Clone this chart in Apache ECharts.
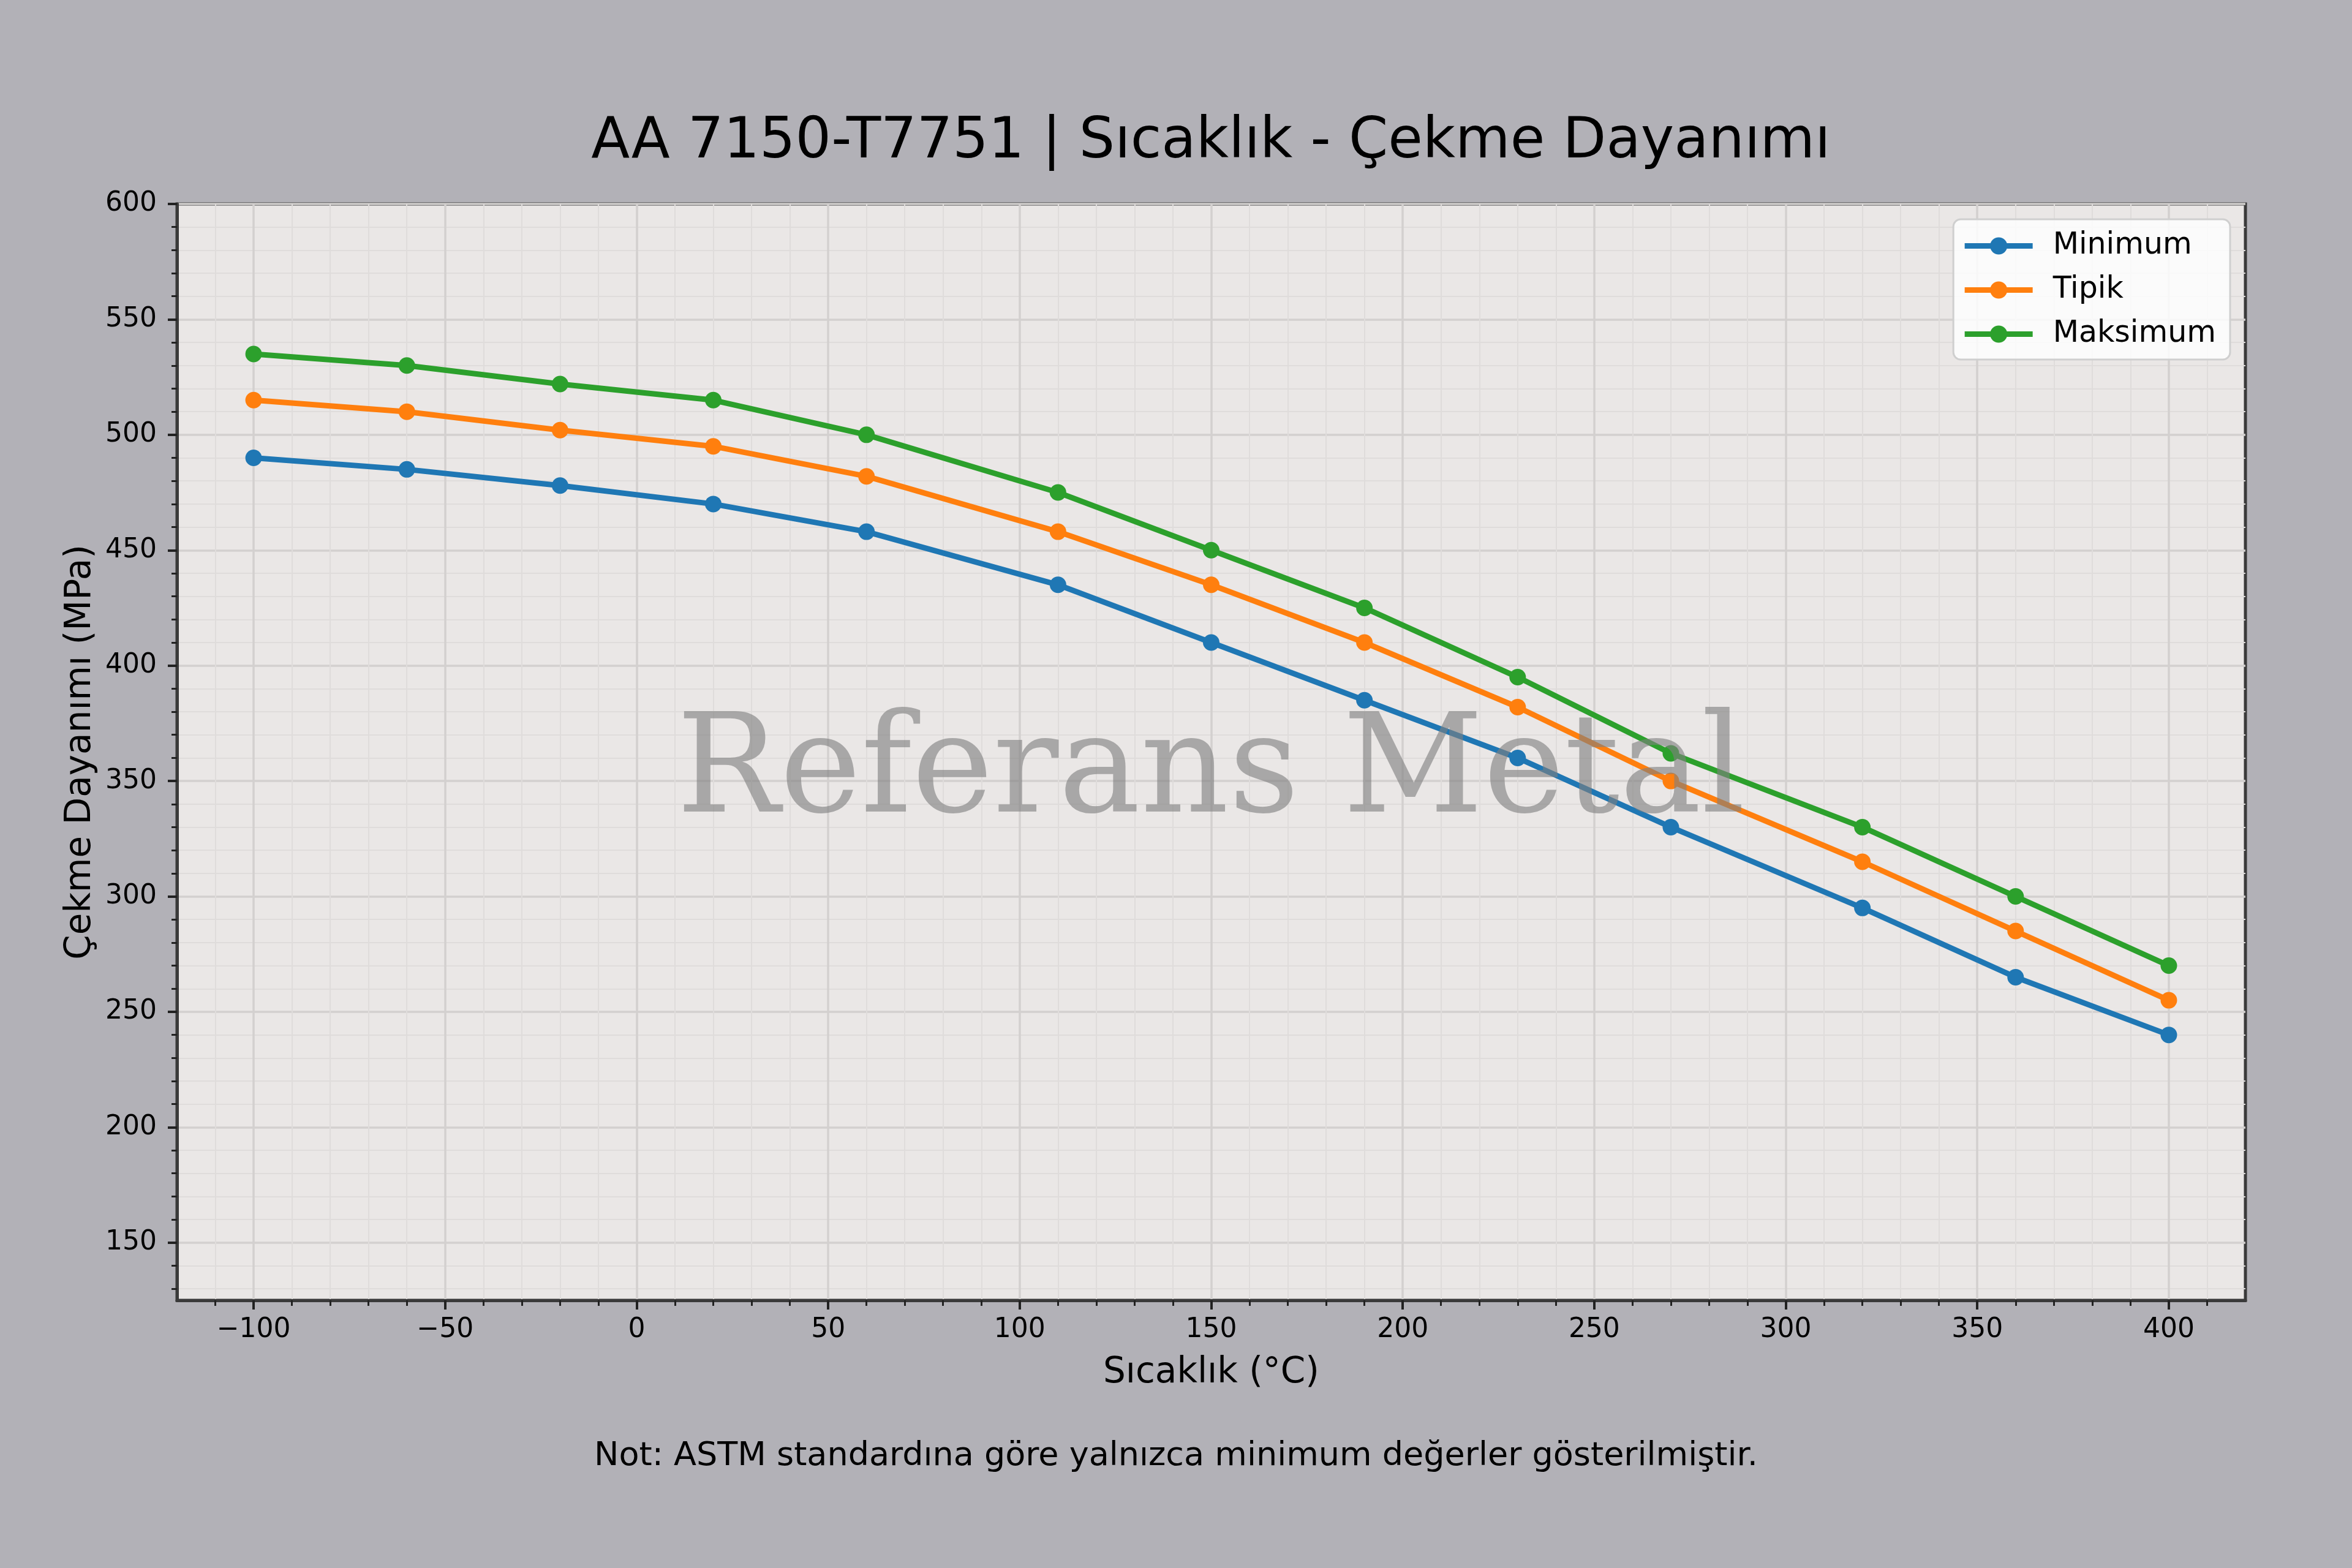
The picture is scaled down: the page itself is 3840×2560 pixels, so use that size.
<!DOCTYPE html>
<html><head><meta charset="utf-8">
<script src="https://cdn.jsdelivr.net/npm/echarts@6/dist/echarts.min.js"></script>
<style>html,body{margin:0;padding:0;background:#b2b1b7}#c{width:3840px;height:2560px}</style>
</head><body><div id="c"></div>
<script>
const temperatures = [-100, -60, -20, 20, 60, 110, 150, 190, 230, 270, 320, 360, 400];
const minimumValues = [490, 485, 478, 470, 458, 435, 410, 385, 360, 330, 295, 265, 240];
const typicalValues = [515, 510, 502, 495, 482, 458, 435, 410, 382, 350, 315, 285, 255];
const maximumValues = [535, 530, 522, 515, 500, 475, 450, 425, 395, 362, 330, 300, 270];
const seriesNames = ['Minimum', 'Tipik', 'Maksimum'];
const seriesColors = ['#1f77b4', '#ff7f0e', '#2ca02c'];
const xTickValues = [-100, -50, 0, 50, 100, 150, 200, 250, 300, 350, 400];
const yTickValues = [150, 200, 250, 300, 350, 400, 450, 500, 550, 600];
const titleText = 'AA 7150-T7751 | Sıcaklık - Çekme Dayanımı';
const xAxisTitle = 'Sıcaklık (°C)';
const yAxisTitle = 'Çekme Dayanımı (MPa)';
const noteText = 'Not: ASTM standardına göre yalnızca minimum değerler gösterilmiştir.';
const watermarkText = 'Referans Metal';

const FONT = 'DejaVu Sans';
const chart = echarts.init(document.getElementById('c'), null, {renderer: 'canvas'});
const valueSets = [minimumValues, typicalValues, maximumValues];
const fmt = v => (v < 0 ? '\u2212' + Math.abs(v) : String(v));

const series = valueSets.map((vals, i) => ({
  name: seriesNames[i],
  type: 'line',
  data: temperatures.map((t, j) => [t, vals[j]]),
  symbol: 'circle',
  symbolSize: 27,
  lineStyle: {width: 9, color: seriesColors[i]},
  itemStyle: {color: seriesColors[i], borderWidth: 0},
  z: 3
}));

const axisCommon = {
  type: 'value',
  axisLine: {show: true, onZero: false, lineStyle: {color: '#3a3a3a', width: 5}},
  axisTick: {show: true, inside: false, length: 15, lineStyle: {color: '#222', width: 4}},
  minorTick: {show: true, splitNumber: 5, length: 9, lineStyle: {color: '#222', width: 3}},
  splitLine: {show: true, lineStyle: {color: '#d3d0cf', width: 3.5}},
  minorSplitLine: {show: true, lineStyle: {color: '#dfdcdb', width: 2}},
  axisLabel: {fontFamily: FONT, fontSize: 44, color: '#000'},
  nameLocation: 'middle',
  nameTextStyle: {fontFamily: FONT, fontSize: 58, color: '#000'}
};

const option = {
  animation: false,
  backgroundColor: '#b2b1b7',
  grid: {left: 289, right: 174, top: 333, bottom: 437, show: true,
         backgroundColor: '#eae7e6', borderColor: '#3a3a3a', borderWidth: 5},
  xAxis: Object.assign({}, axisCommon, {
    min: -120, max: 420, minInterval: 50, maxInterval: 50, splitNumber: 10,
    axisTick: Object.assign({}, axisCommon.axisTick, {customValues: xTickValues}),
    axisLabel: Object.assign({}, axisCommon.axisLabel, {customValues: xTickValues, margin: 27, formatter: fmt}),
    name: xAxisTitle, nameGap: 90
  }),
  yAxis: Object.assign({}, axisCommon, {
    min: 125, max: 600, minInterval: 50, maxInterval: 50, splitNumber: 10,
    axisTick: Object.assign({}, axisCommon.axisTick, {customValues: yTickValues}),
    axisLabel: Object.assign({}, axisCommon.axisLabel, {customValues: yTickValues, margin: 33, formatter: fmt}),
    name: yAxisTitle, nameGap: 128
  }),
  legend: {
    orient: 'vertical', right: 199, top: 358,
    data: seriesNames,
    itemWidth: 111, itemHeight: 35, itemGap: 23,
    padding: [19, 23, 17, 14],
    backgroundColor: 'rgba(255,255,255,0.82)',
    borderColor: '#cfcfcf', borderWidth: 3, borderRadius: 12,
    lineStyle: {width: 9},
    itemStyle: {borderWidth: 0},
    textStyle: {fontFamily: FONT, fontSize: 49, color: '#000', padding: [0, 0, 0, 28]}
  },
  graphic: [
    {type: 'text', x: 1977, y: 233, silent: true, z: 10,
     style: {text: titleText, font: '92px "DejaVu Sans"', fill: '#000', align: 'center', verticalAlign: 'middle'}},
    {type: 'text', x: 1920, y: 2378, silent: true, z: 10,
     style: {text: noteText, font: '54px "DejaVu Sans"', fill: '#000', align: 'center', verticalAlign: 'middle'}},
    {type: 'text', x: 1977, y: 1267, silent: true, z: 100,
     style: {text: watermarkText, font: '224px "DejaVu Serif"', fill: 'rgba(128,128,128,0.62)', align: 'center', verticalAlign: 'middle'}}
  ],
  series: series
};
chart.setOption(option);
</script></body></html>
